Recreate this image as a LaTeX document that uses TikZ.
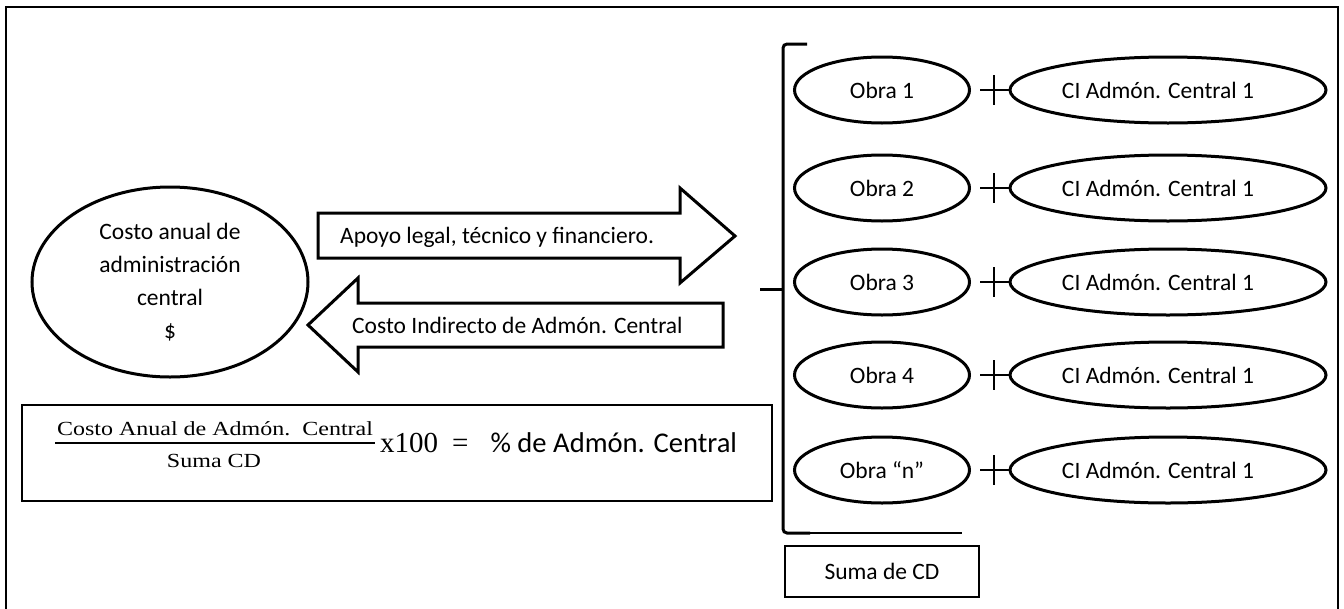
\documentclass[tikz,border=0pt]{standalone}
\usepackage{graphicx}
\usepackage{fontspec}
\setmainfont{Carlito}
\newfontfamily\serifff{Liberation Serif}
\usetikzlibrary{shapes.geometric}
\begin{document}
\begin{tikzpicture}[x=1pt,y=-1pt,
  every node/.style={font=\fontsize{23.5pt}{33pt}\selectfont},
  oval/.style={ellipse, draw, line width=3pt, inner sep=0pt},
  obrabox/.style={oval, minimum width=175pt, minimum height=66pt},
  cibox/.style={oval, minimum width=316pt, minimum height=66pt},
  plusline/.style={line width=2pt},
  blockarrow/.style={draw, line width=3pt, line join=miter},
  framebox/.style={draw, line width=2pt, inner sep=0pt},
  fracfont/.style={font=\serifff\fontsize{20pt}{24pt}\selectfont, inner sep=0pt, anchor=base}]
\useasboundingbox (0,0) rectangle (1344,608);
\draw[line width=1.5pt] (6,7) rectangle (1338,620);

% left ellipse
\node[oval, minimum width=276pt, minimum height=190pt, align=center] (costo) at (170,282)
  {Costo anual de\\administración\\central\\\$};

% block arrows
\draw[blockarrow] (318,213) -- (680,213) -- (680,188) -- (735,236) -- (680,283) -- (680,258) -- (318,258) -- cycle;
\node[anchor=base west, inner sep=0pt] (apoyo) at (340,243) {Apoyo legal, técnico y financiero.};
\draw[blockarrow] (308,325) -- (358,278) -- (358,303) -- (723,303) -- (723,347) -- (358,347) -- (358,372) -- cycle;
\node[anchor=base west, inner sep=0pt] (cind) at (352,333) {Costo Indirecto de Admón. Central};

% formula box
\node[framebox, minimum width=750pt, minimum height=96pt] (formulabox) at (397,453) {};
\node[fracfont] (num) at (215,435) {\scalebox{1.2}[1]{Costo Anual de Admón.\ \ Central}};
\draw[line width=2pt] (55,443) -- (375,443);
\node[fracfont] (den) at (214,467) {\scalebox{1.2}[1]{Suma CD}};
\node[anchor=base west, inner sep=0pt] (pct) at (380,452)
  {{\serifff\fontsize{29pt}{30pt}\selectfont x100\hspace{14pt}=\hspace{22pt}}{\fontsize{28.6pt}{30pt}\selectfont\% de Admón. Central}};

% right column
\foreach \yy/\lab/\i in {90/Obra 1/1, 188/Obra 2/2, 282/Obra 3/3, 375/Obra 4/4, 470/Obra “n”/5}{
  \node[obrabox] (obra\i) at (882,\yy) {\lab};
  \node[cibox] (cia\i) at (1168,\yy) {\hspace*{-20pt}CI Admón. Central 1};
  \draw[plusline] ([xshift=9pt]obra\i.east) -- (cia\i.west);
  \draw[plusline] (994,{\yy-15}) -- (994,{\yy+15});
}

% bracket
\draw[line width=3pt, rounded corners=4pt] (807,44) -- (783,44) -- (783,533) -- (810,533);
\draw[line width=2pt] (805,533) -- (962,533);
\draw[line width=3pt] (760,289) -- (783,289);

% suma box
\node[framebox, minimum width=194pt, minimum height=51pt] (suma) at (882,571.5) {Suma de CD};
\end{tikzpicture}
\end{document}
